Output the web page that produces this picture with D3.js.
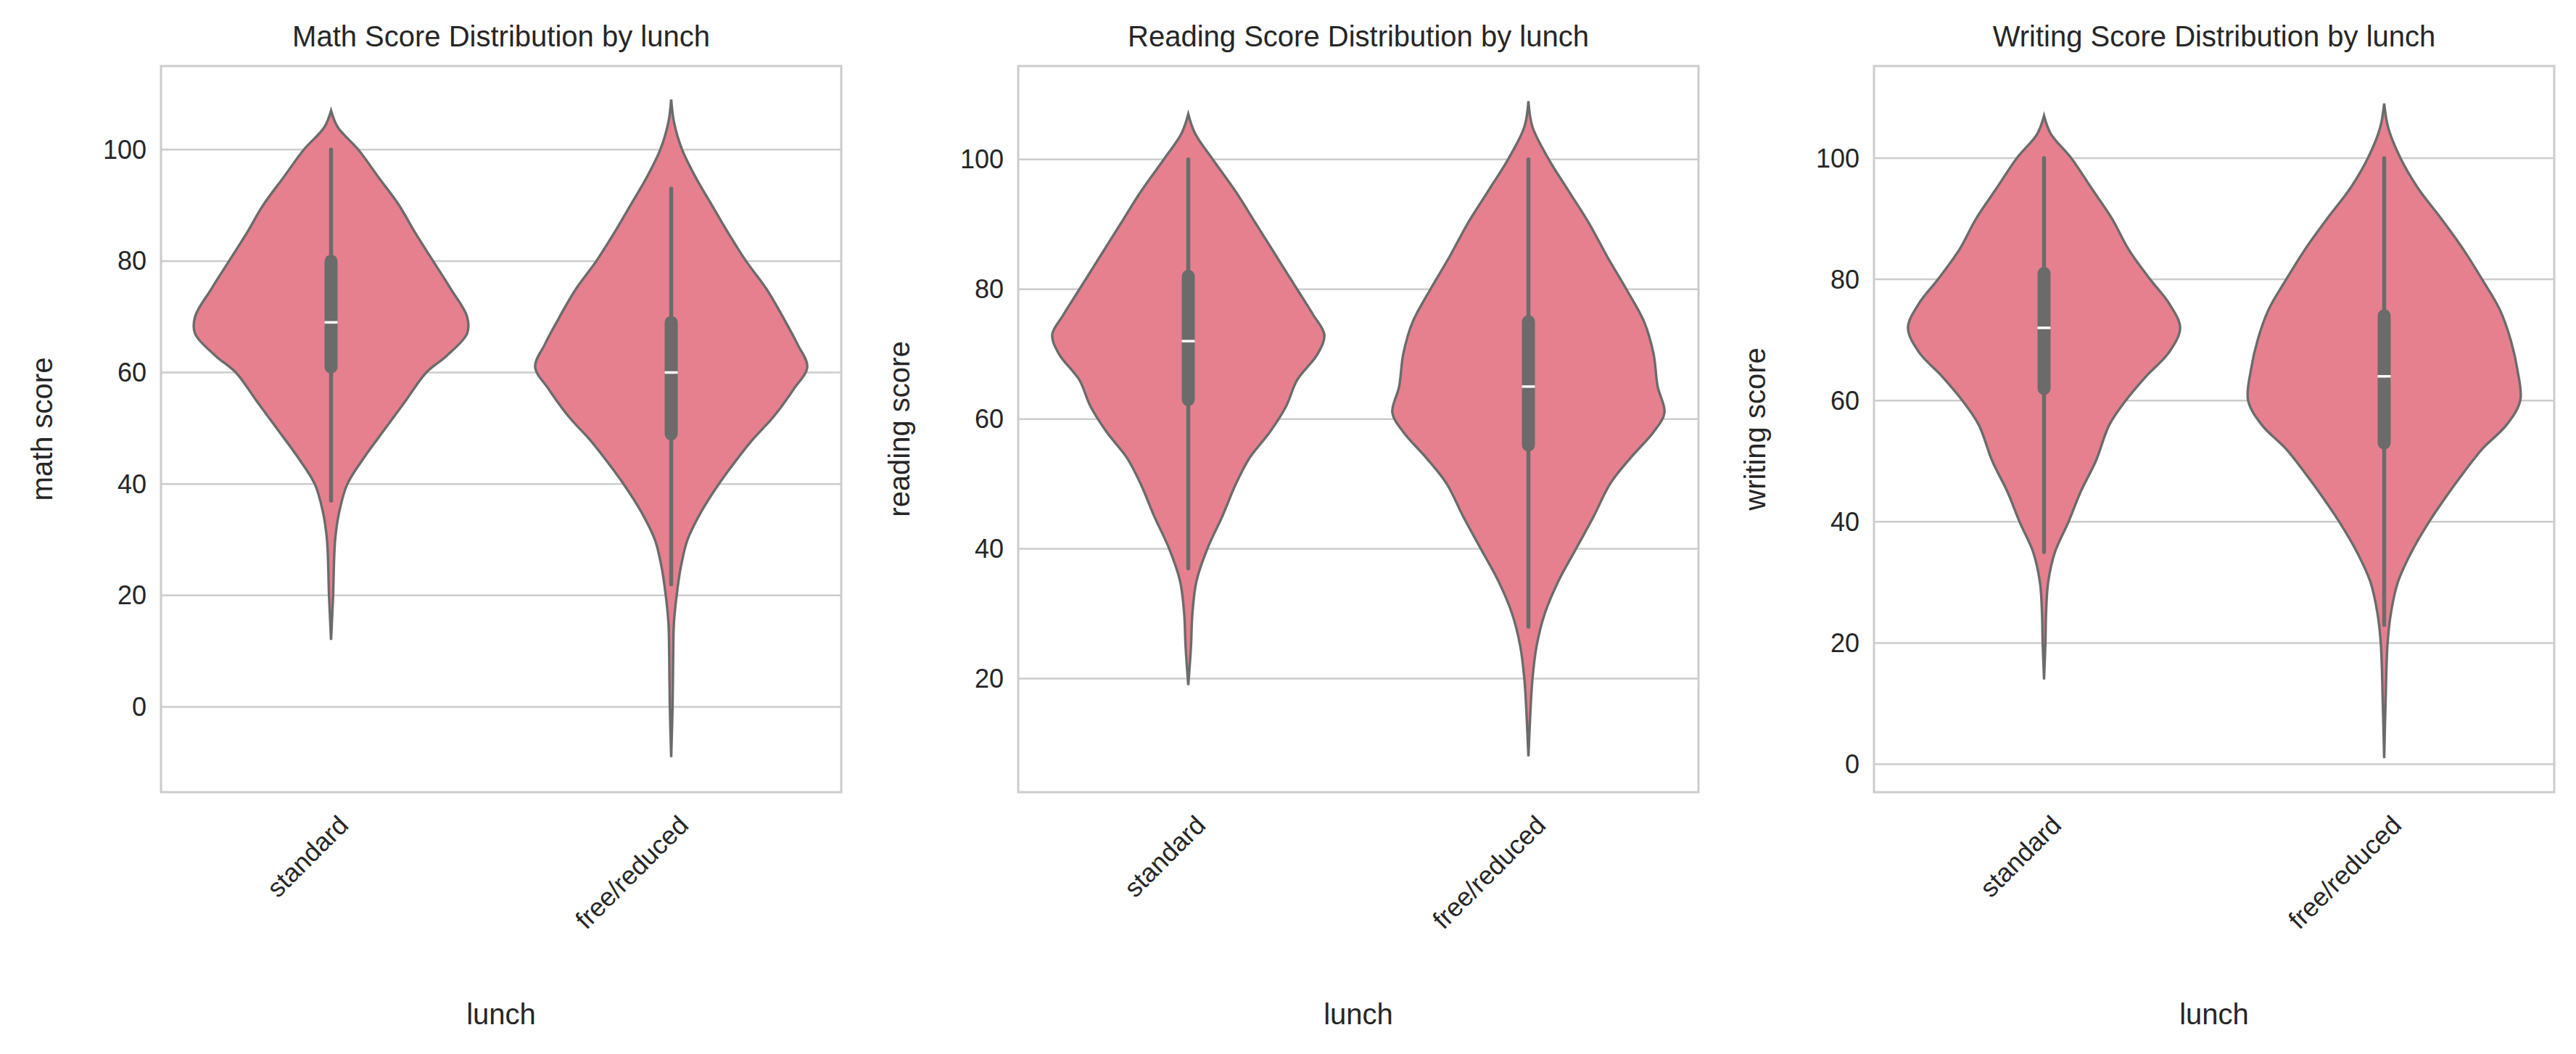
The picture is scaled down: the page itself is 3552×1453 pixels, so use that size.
<!DOCTYPE html>
<html><head><meta charset="utf-8">
<script src="https://cdn.jsdelivr.net/npm/d3@7"></script>
<style>body{margin:0;background:#fff}text{font-family:"Liberation Sans",Arial,sans-serif;fill:#262626}</style>
</head><body><svg id="c" width="3552" height="1453"></svg>
<script>
const categories = ["standard", "free/reduced"];
const subjects = ["math", "reading", "writing"];
const titles = ["Math Score Distribution by lunch", "Reading Score Distribution by lunch", "Writing Score Distribution by lunch"];
const yLabels = ["math score", "reading score", "writing score"];
const yTicks = [[0,20,40,60,80,100],[20,40,60,80,100],[0,20,40,60,80,100]];
const yDomains = [[-15.3,115],[2.5,114.4],[-4.6,115.2]];
// density profiles: [score, relative half-width]
const mathStandard = [[107,0],[104,0.05],[100,0.2],[95,0.35],[90,0.5],[85,0.62],[80,0.75],[75,0.88],[70,1.0],[67,1.0],[63,0.85],[60,0.7],[55,0.55],[50,0.4],[45,0.25],[40,0.12],[35,0.06],[30,0.03],[20,0.015],[12,0]];
const mathFree = [[109,0],[105,0.02],[100,0.08],[95,0.18],[90,0.3],[85,0.42],[80,0.55],[75,0.7],[70,0.82],[65,0.93],[61,1.0],[57,0.9],[52,0.75],[48,0.6],[44,0.47],[40,0.35],[35,0.22],[30,0.12],[25,0.07],[20,0.04],[15,0.02],[10,0.015],[0,0.01],[-9,0]];
const readingStandard = [[107,0],[104,0.05],[100,0.18],[95,0.35],[90,0.5],[85,0.65],[80,0.8],[76,0.92],[73,1.0],[70,0.95],[66,0.8],[62,0.72],[58,0.6],[54,0.45],[50,0.35],[45,0.25],[40,0.14],[35,0.06],[30,0.03],[25,0.02],[19,0]];
const readingFree = [[109,0],[105,0.03],[100,0.15],[95,0.3],[90,0.45],[85,0.58],[80,0.72],[75,0.85],[70,0.92],[65,0.95],[61,1.0],[58,0.92],[54,0.75],[50,0.6],[45,0.48],[40,0.35],[35,0.22],[30,0.12],[25,0.06],[20,0.03],[15,0.015],[8,0]];
const writingStandard = [[107,0],[104,0.05],[100,0.2],[95,0.35],[90,0.5],[85,0.62],[80,0.78],[76,0.92],[72,1.0],[68,0.92],[64,0.75],[60,0.6],[56,0.48],[50,0.38],[45,0.27],[40,0.18],[35,0.08],[30,0.03],[25,0.015],[20,0.01],[14,0]];
const writingFree = [[109,0],[105,0.03],[100,0.12],[95,0.25],[90,0.42],[85,0.58],[80,0.72],[75,0.85],[70,0.93],[65,0.98],[60,1.0],[56,0.9],[52,0.72],[48,0.58],[44,0.45],[40,0.33],[35,0.2],[30,0.1],[25,0.05],[20,0.025],[10,0.01],[1,0]];
// box stats: [whiskerLow, q1, median, q3, whiskerHigh]
const mathBoxes = [[37,61,69,80,100],[22,49,60,69,93]];
const readingBoxes = [[37,63,72,82,100],[28,56,65,75,100]];
const writingBoxes = [[35,62,72,81,100],[23,53,64,74,100]];
const profiles = [[mathStandard, mathFree],[readingStandard, readingFree],[writingStandard, writingFree]];
const boxes = [mathBoxes, readingBoxes, writingBoxes];

const svg = d3.select("#c");
const lefts = [222, 1404, 2584], W = 938, plotTop = 91, plotBottom = 1092;
const fillC = "#e6808f", lineC = "#6b6b6b", gridC = "#cccccc";
subjects.forEach((s, i) => {
  const g = svg.append("g");
  const x = d3.scaleBand().domain(categories).range([lefts[i], lefts[i] + W]);
  const y = d3.scaleLinear().domain(yDomains[i]).range([plotBottom, plotTop]);
  yTicks[i].forEach(t => {
    g.append("line").attr("x1", lefts[i]).attr("x2", lefts[i] + W).attr("y1", y(t)).attr("y2", y(t)).attr("stroke", gridC).attr("stroke-width", 2.5);
    g.append("text").attr("x", lefts[i] - 20).attr("y", y(t)).attr("dy", "0.35em").attr("text-anchor", "end").attr("font-size", 36).text(t);
  });
  const hw = x.bandwidth() * 0.4;
  categories.forEach((c, j) => {
    const cx = x(c) + x.bandwidth() / 2;
    const area = d3.area().curve(d3.curveCatmullRom.alpha(0.5))
      .y(d => y(d[0])).x0(d => cx - d[1] * hw).x1(d => cx + d[1] * hw);
    g.append("path").attr("d", area(profiles[i][j])).attr("fill", fillC).attr("stroke", lineC).attr("stroke-width", 3.4);
    const b = boxes[i][j];
    g.append("line").attr("x1", cx).attr("x2", cx).attr("y1", y(b[0])).attr("y2", y(b[4])).attr("stroke", lineC).attr("stroke-width", 5.5).attr("stroke-linecap", "round");
    g.append("line").attr("x1", cx).attr("x2", cx).attr("y1", y(b[1])).attr("y2", y(b[3])).attr("stroke", lineC).attr("stroke-width", 18).attr("stroke-linecap", "round");
    g.append("line").attr("x1", cx - 9).attr("x2", cx + 9).attr("y1", y(b[2])).attr("y2", y(b[2])).attr("stroke", "#fff").attr("stroke-width", 3.5);
    g.append("text").attr("transform", `translate(${cx + 8},${plotBottom + 30}) rotate(-45)`).attr("text-anchor", "end").attr("dy", "0.7em").attr("font-size", 36).text(c);
  });
  g.append("rect").attr("x", lefts[i]).attr("y", plotTop).attr("width", W).attr("height", plotBottom - plotTop).attr("fill", "none").attr("stroke", gridC).attr("stroke-width", 3);
  g.append("text").attr("x", lefts[i] + W / 2).attr("y", 64).attr("text-anchor", "middle").attr("font-size", 40).text(titles[i]);
  g.append("text").attr("x", lefts[i] + W / 2).attr("y", 1412).attr("text-anchor", "middle").attr("font-size", 40).text("lunch");
  g.append("text").attr("transform", `translate(${lefts[i] - 150},${(plotTop + plotBottom) / 2}) rotate(-90)`).attr("text-anchor", "middle").attr("font-size", 40).text(yLabels[i]);
});
</script></body></html>
